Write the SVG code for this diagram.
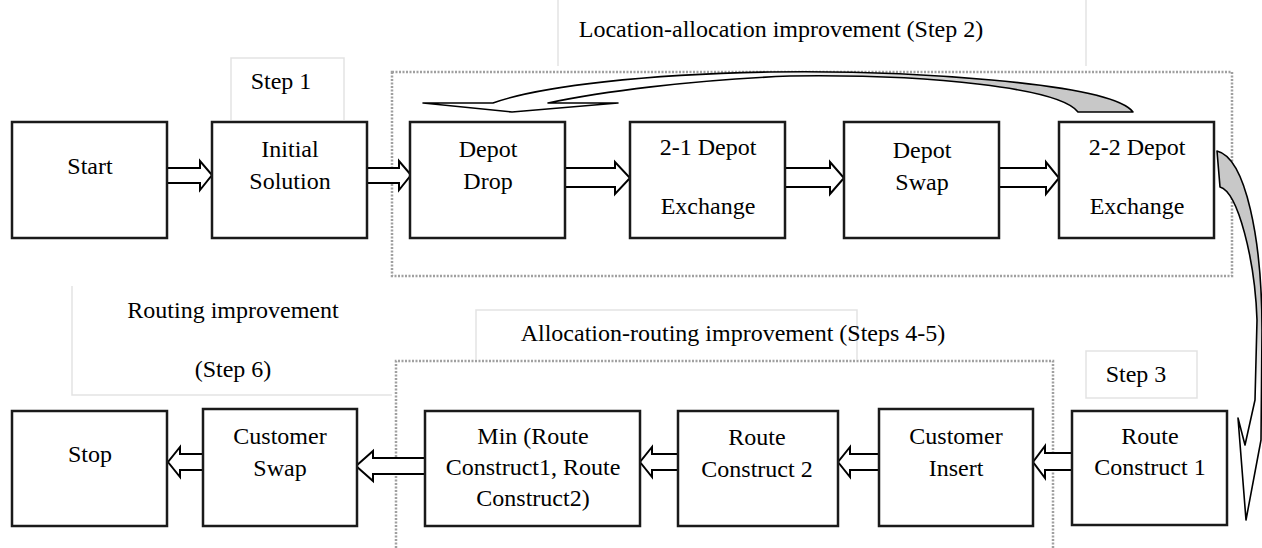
<svg xmlns="http://www.w3.org/2000/svg" width="1262" height="548" viewBox="0 0 1262 548">
<style>
.t{font-family:"Liberation Serif","Times New Roman","DejaVu Serif",serif;font-size:24px;fill:#000;text-anchor:middle}
.box{fill:#fff;stroke:#1a1a1a;stroke-width:2.5}
.lbl{fill:none;stroke:#e3e3e3;stroke-width:1.5}
.dot{fill:none;stroke:#a0a0a0;stroke-width:2.5;stroke-dasharray:2 1.5}
.ba{fill:#fff;stroke:#000;stroke-width:2;stroke-linejoin:miter}
.ca{stroke:#000;stroke-width:1.6;stroke-linejoin:round}
</style>
<defs>
<linearGradient id="gTop" x1="0" y1="0" x2="1" y2="0">
<stop offset="0" stop-color="#fff"/>
<stop offset="0.45" stop-color="#fff"/>
<stop offset="0.8" stop-color="#c8c8c8"/>
<stop offset="1" stop-color="#c8c8c8"/>
</linearGradient>
<linearGradient id="gRight" x1="0" y1="0" x2="0" y2="1">
<stop offset="0" stop-color="#c8c8c8"/>
<stop offset="0.45" stop-color="#c8c8c8"/>
<stop offset="0.65" stop-color="#fff"/>
<stop offset="1" stop-color="#fff"/>
</linearGradient>
</defs>

<g id="groups">
<rect class="dot" x="392" y="72" width="840" height="204"/>
<path class="dot" d="M396,548 V361 H1053 V548"/>
</g>

<g id="label-step2">
<path class="lbl" d="M558,0 V66 M1086,0 V66"/>
<text class="t" x="781" y="37">Location-allocation improvement (Step 2)</text>
</g>
<g id="label-step1">
<path class="lbl" d="M231,120 V58 H344 V120"/>
<text class="t" x="281" y="89">Step 1</text>
</g>
<g id="label-step6">
<path class="lbl" d="M72,286 V395 H392"/>
<text class="t" x="233" y="318">Routing improvement</text>
<text class="t" x="233" y="377">(Step 6)</text>
</g>
<g id="label-steps45">
<path class="lbl" d="M476,360 V310 H857 V360"/>
<text class="t" x="733" y="341">Allocation-routing improvement (Steps 4-5)</text>
</g>
<g id="label-step3">
<rect class="lbl" x="1086" y="351" width="111" height="47"/>
<text class="t" x="1136" y="382">Step 3</text>
</g>

<g id="connectors">
<polygon class="ba" points="167,168 200,168 200,161 212,175 200,190 200,183 167,183"/>
<polygon class="ba" points="367,168 399,168 399,161 411,175 399,190 399,183 367,183"/>
<polygon class="ba" points="565,168 615,168 615,162 630,178 615,194 615,187 565,187"/>
<polygon class="ba" points="785,168 830,168 830,162 844,178 830,194 830,187 785,187"/>
<polygon class="ba" points="999,168 1046,168 1046,162 1059,178 1046,194 1046,187 999,187"/>
<polygon class="ba" points="1072,453 1045,453 1045,446 1033,462 1045,478 1045,470 1072,470"/>
<polygon class="ba" points="879,454 850,454 850,447 838,462 850,477 850,470 879,470"/>
<polygon class="ba" points="678,454 652,454 652,447 640,462 652,477 652,470 678,470"/>
<polygon class="ba" points="425,458 373,458 373,451 356,466 373,481 373,474 425,474"/>
<polygon class="ba" points="203,454 180,454 180,447 168,462 180,477 180,470 203,470"/>
<path class="ca" fill="url(#gTop)" d="M1133,112 C1110,82 900,70 770,72 C650,74 540,86 493,103 L423,103 L512,112 L618,103 L548,103 C600,92 690,80 790,76 C930,74 1060,88 1078,112 Z"/>
<path class="ca" fill="url(#gRight)" d="M1217,151 C1246,158 1262,240 1262,330 L1261,440 L1246,520 L1238,418 L1245,445 L1255,400 L1257,320 C1255,260 1238,192 1220,187 Z"/>
</g>

<g id="start"><rect class="box" x="12" y="122" width="155" height="116"/><text class="t" x="90" y="174">Start</text></g>
<g id="initial"><rect class="box" x="212" y="122" width="155" height="116"/><text class="t" x="290" y="157">Initial</text><text class="t" x="290" y="189">Solution</text></g>
<g id="depot-drop"><rect class="box" x="410" y="122" width="155" height="116"/><text class="t" x="488" y="157">Depot</text><text class="t" x="488" y="189">Drop</text></g>
<g id="exch21"><rect class="box" x="630" y="122" width="155" height="116"/><text class="t" x="708" y="155">2-1 Depot</text><text class="t" x="708" y="214">Exchange</text></g>
<g id="depot-swap"><rect class="box" x="844" y="122" width="155" height="116"/><text class="t" x="922" y="158">Depot</text><text class="t" x="922" y="190">Swap</text></g>
<g id="exch22"><rect class="box" x="1059" y="122" width="155" height="116"/><text class="t" x="1137" y="155">2-2 Depot</text><text class="t" x="1137" y="214">Exchange</text></g>

<g id="stop"><rect class="box" x="12" y="411" width="155" height="115"/><text class="t" x="90" y="462">Stop</text></g>
<g id="customer-swap"><rect class="box" x="203" y="409" width="154" height="117"/><text class="t" x="280" y="444">Customer</text><text class="t" x="280" y="476">Swap</text></g>
<g id="min"><rect class="box" x="425" y="411" width="215" height="115"/><text class="t" x="533" y="444">Min (Route</text><text class="t" x="533" y="475">Construct1, Route</text><text class="t" x="533" y="506">Construct2)</text></g>
<g id="route2"><rect class="box" x="678" y="411" width="160" height="115"/><text class="t" x="757" y="445">Route</text><text class="t" x="757" y="477">Construct 2</text></g>
<g id="customer-insert"><rect class="box" x="879" y="409" width="154" height="117"/><text class="t" x="956" y="444">Customer</text><text class="t" x="956" y="476">Insert</text></g>
<g id="route1"><rect class="box" x="1072" y="411" width="155" height="114"/><text class="t" x="1150" y="444">Route</text><text class="t" x="1150" y="475">Construct 1</text></g>
</svg>
